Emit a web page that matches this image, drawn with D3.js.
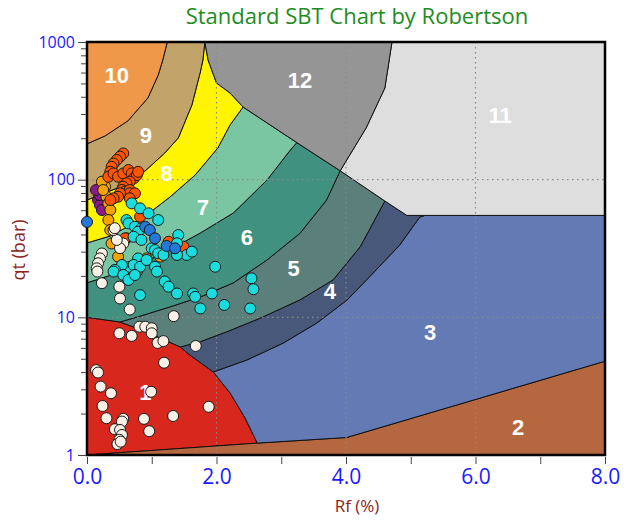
<!DOCTYPE html>
<html lang="en">
<head>
  <meta charset="UTF-8">
  <title>Standard SBT Chart</title>
  <script src="https://cdn.jsdelivr.net/npm/d3@7"></script>
  <style>
    body { margin: 0; background: #fff; }
    text { font-family: "Open Sans", sans-serif; }
  </style>
</head>
<body>
  <svg id="chart" width="624" height="521"></svg>
  <script>
    // zone boundaries, [Rf %, qt bar]
    const zone2Top = [[0, 1], [2.63, 1.22], [4.01, 1.34], [8, 4.8]]
    const zone1Edge = [[0, 10], [0.51, 9.25], [0.93, 7.82], [1.2, 6.84], [1.44, 6.09], [1.59, 5.32], [1.95, 4.01], [2.21, 2.82], [2.44, 1.86], [2.63, 1.22]]
    const edge43 = [[5.22, 55], [5.14, 53.6], [4.83, 33.5], [4.42, 21], [4.02, 13.4], [3.55, 9.1], [3.03, 6.5], [2.47, 4.9], [1.95, 4.01]]
    const edge54 = [[4.6, 70], [4.22, 32.6], [3.8, 18.7], [3.29, 13.4], [2.67, 9.84], [2.16, 7.86], [1.75, 6.65], [1.44, 6.09]]
    const edge65 = [[3.91, 116], [3.7, 71.2], [3.29, 40.8], [2.78, 26.1], [2.26, 17.8], [1.75, 14.05], [1.28, 11.9], [0.82, 10.2], [0.51, 9.25]]
    const edge76 = [[3.24, 186], [3.14, 164], [2.78, 99.4], [2.26, 57.3], [1.75, 41], [1.13, 28.4], [0.51, 21.3], [0, 17.8]]
    const edge87 = [[2.41, 337], [2.21, 250], [2.02, 170], [1.67, 108], [1.28, 74.8], [0.82, 50.9], [0.36, 39], [0, 34.7]]
    const edge98 = [[1.82, 1000], [1.79, 740], [1.75, 605], [1.62, 349], [1.41, 201], [1.2, 156], [0.9, 116], [0.51, 88.5], [0, 71.2]]
    const edge109 = [[1.24, 1000], [1.17, 740], [1.1, 576], [0.94, 392], [0.63, 267], [0.28, 208], [0, 182]]
    const edge12 = [[1.82, 1000], [1.87, 740], [2.0, 504], [2.21, 426], [2.41, 337]]
    const diagonal = [[2.41, 337], [3.24, 186], [3.91, 116], [4.6, 70], [4.94, 55]]
    const edge1211 = [[4.71, 1000], [4.6, 463], [4.31, 237], [3.91, 116]]

    const zoneNames = ['1', '2', '3', '4', '5', '6', '7', '8', '9', '10', '11', '12']
    const zoneLabelAt = [[0.9, 2.88], [6.66, 1.6], [5.3, 7.86], [3.75, 15.4], [3.19, 22.7], [2.47, 38.5], [1.79, 63.3], [1.23, 112], [0.91, 212], [0.46, 576], [6.38, 296], [3.29, 530]]

    // soundings
    const creamPts = [[0.14, 4.14], [0.17, 3.97], [0.21, 3.14], [0.37, 2.81], [0.24, 2.27], [0.30, 1.85], [0.56, 1.83], [0.54, 1.75], [0.43, 1.54], [0.51, 1.52], [0.54, 1.40], [0.50, 1.29], [0.47, 1.20], [0.52, 1.25], [0.88, 1.83], [0.96, 1.49], [0.99, 2.88], [1.19, 4.68], [1.33, 1.92], [1.88, 2.24], [1.68, 6.19], [1.09, 6.52], [1.18, 6.72], [0.23, 29.1], [0.20, 26.8], [0.17, 24.7], [0.15, 22.7], [0.16, 21.5], [0.23, 17.7], [0.50, 16.7], [0.51, 13.7], [0.66, 11.4], [1.34, 10.2], [0.81, 8.55], [0.90, 8.55], [1.00, 8.33], [1.00, 7.66], [0.50, 7.66], [0.69, 7.33], [0.56, 34.4], [0.51, 31.8], [0.46, 36.5], [0.41, 43.1], [0.43, 44.4]]
    const cyanPts = [[0.69, 67.3], [0.82, 61.9], [0.95, 57.0], [1.10, 50.9], [0.61, 50.9], [0.64, 48.2], [0.74, 45.5], [0.84, 44.3], [0.79, 41.9], [0.72, 38.5], [0.84, 36.5], [1.00, 31.7], [1.05, 30.8], [1.10, 29.2], [1.18, 28.4], [1.41, 39.6], [1.39, 34.5], [1.54, 28.4], [1.62, 30.0], [1.39, 28.4], [0.79, 26.8], [0.66, 23.3], [0.72, 24.0], [0.82, 23.3], [0.92, 26.1], [0.54, 24.0], [0.43, 22.1], [0.41, 21.5], [0.56, 20.3], [0.64, 18.7], [0.74, 20.3], [1.05, 23.3], [1.08, 21.5], [1.20, 18.2], [1.26, 16.7], [1.39, 14.9], [1.64, 14.9], [1.67, 14.1], [1.75, 11.6], [1.93, 14.9], [1.98, 23.3], [0.82, 14.5], [2.54, 19.2], [2.57, 16.0], [2.12, 12.3], [2.52, 11.6]]
    const redPts = [[0.56, 155], [0.51, 147], [0.46, 139], [0.41, 131], [0.38, 124], [0.36, 114], [0.33, 105], [0.41, 111], [0.48, 105], [0.56, 111], [0.64, 117.5], [0.69, 111], [0.72, 102], [0.77, 108], [0.79, 114], [0.66, 96.7], [0.61, 94.1], [0.56, 88.9], [0.54, 84.1], [0.59, 81.8], [0.66, 84.1], [0.66, 79.6], [0.74, 79.6], [0.66, 73.2], [0.51, 79.6], [0.48, 75.2], [0.41, 73.2], [0.36, 71.2], [0.61, 37.5], [0.82, 53.8], [1.39, 32.6], [1.49, 32.6], [1.26, 35.4], [0.59, 37.5]]
    const amberPts = [[0.28, 88.9], [0.30, 75.2], [0.33, 67.3], [0.36, 60.2], [0.33, 50.9], [0.36, 43.1], [0.38, 34.4], [0.48, 27.6], [0.92, 26.8], [0.77, 21.5], [1.13, 27.6], [0.23, 96.7], [0.25, 84.1]]
    const purplePts = [[0.17, 71.2], [0.20, 65.5], [0.23, 60.2], [0.19, 77.4], [0.14, 84.1]]
    const bluePts = [[0.90, 45.5], [0.97, 43.1], [1.05, 37.5], [1.23, 33.0], [1.36, 31.7], [0, 49.3]]

    const xTicks = [0, 1, 2, 3, 4, 5, 6, 7, 8]
    const yMajor = [1, 10, 100, 1000]

    const zoneColors = ['#d8281e', '#b5683f', '#647ab4', '#47587a', '#5b7f7a', '#40917f', '#7ac6a2', '#fff500', '#c2a46a', '#f0984a', '#dedede', '#959595']

    const svg = d3.select('#chart')
    const x = d3.scaleLinear().domain([0, 8]).range([87, 605])
    const y = d3.scaleLog().domain([1, 1000]).range([455, 42])
    const line = d3.line().x(d => x(d[0])).y(d => y(d[1]))
    const rev = a => a.slice().reverse()

    const zones = [
      [...zone1Edge, [0, 1]],
      [...zone2Top, [8, 1]],
      [...edge43, ...zone1Edge.slice(7), ...zone2Top.slice(2), [8, 55]],
      [...edge54, zone1Edge[5], ...rev(edge43), [4.94, 55]],
      [...edge65, zone1Edge[2], zone1Edge[3], ...rev(edge54)],
      [...edge76, zone1Edge[0], ...rev(edge65)],
      [...edge87, ...rev(edge76)],
      [...edge98, ...rev(edge87), ...rev(edge12)],
      [...edge109, ...rev(edge98)],
      [[0, 1000], ...edge109],
      [...edge1211, ...diagonal.slice(3), [8, 55], [8, 1000]],
      [...edge12, ...diagonal.slice(1, 3), ...rev(edge1211)]
    ]

    svg.append('g').selectAll('path')
      .data(zones)
      .enter().append('path')
      .attr('d', d => line(d) + 'Z')
      .attr('fill', (d, i) => zoneColors[i])
      .attr('stroke', '#111')
      .attr('stroke-width', 1)
      .attr('stroke-linejoin', 'round')

    // dotted grid
    const grid = svg.append('g')
      .attr('stroke', '#8a8a8a')
      .attr('stroke-width', 1.2)
      .attr('stroke-dasharray', '1.5,3.5')
    grid.selectAll('.gx').data([2, 4, 6]).enter().append('line')
      .attr('x1', d => x(d)).attr('x2', d => x(d))
      .attr('y1', 42).attr('y2', 455)
    grid.selectAll('.gy').data([10, 100]).enter().append('line')
      .attr('x1', 87).attr('x2', 605)
      .attr('y1', d => y(d)).attr('y2', d => y(d))

    // zone labels
    svg.append('g').selectAll('text')
      .data(zoneNames)
      .enter().append('text')
      .attr('x', (d, i) => x(zoneLabelAt[i][0]))
      .attr('y', (d, i) => y(zoneLabelAt[i][1]))
      .attr('dy', '0.36em')
      .attr('text-anchor', 'middle')
      .style('font-family', '"Liberation Sans", Arial, sans-serif')
      .style('font-weight', 'bold')
      .style('font-size', '22px')
      .attr('fill', '#fff')
      .text(d => d)

    // frame
    svg.append('rect')
      .attr('x', 87).attr('y', 42)
      .attr('width', 518).attr('height', 413)
      .attr('fill', 'none')
      .attr('stroke', '#000')
      .attr('stroke-width', 2.5)

    // axes
    const xAxis = svg.append('g')
      .attr('transform', 'translate(0,457)')
      .call(d3.axisBottom(x).tickValues(xTicks).tickSize(7).tickPadding(5)
        .tickFormat(d => d % 2 === 0 ? d.toFixed(1) : ''))
    xAxis.select('.domain').remove()
    xAxis.selectAll('line').attr('stroke', '#444')
    xAxis.selectAll('text').attr('fill', '#1a1aff').style('font-size', '21px')

    const yMinor = []
    yMajor.slice(0, 3).forEach(m => { for (let k = 2; k < 10; k++) yMinor.push(m * k) })
    const yAxisMinor = svg.append('g')
      .attr('transform', 'translate(86,0)')
      .call(d3.axisLeft(y).tickValues(yMinor).tickSize(5).tickFormat(''))
    yAxisMinor.select('.domain').remove()
    yAxisMinor.selectAll('line').attr('stroke', '#444')

    const yAxis = svg.append('g')
      .attr('transform', 'translate(86,0)')
      .call(d3.axisLeft(y).tickValues(yMajor).tickSize(8).tickPadding(3)
        .tickFormat(d3.format('d')))
    yAxis.select('.domain').remove()
    yAxis.selectAll('line').attr('stroke', '#444')
    yAxis.selectAll('text').attr('fill', '#1a1aff').style('font-size', '16px')

    // soundings
    const series = [
      { pts: purplePts, color: '#8b1a8b' },
      { pts: amberPts, color: '#f5a300' },
      { pts: redPts, color: '#ff5500' },
      { pts: creamPts, color: '#faf0e6' },
      { pts: cyanPts, color: '#1adcdc' },
      { pts: bluePts, color: '#2379d9' }
    ]
    series.forEach(s => {
      svg.append('g').selectAll('circle')
        .data(s.pts)
        .enter().append('circle')
        .attr('cx', d => x(d[0]))
        .attr('cy', d => y(d[1]))
        .attr('r', 5.5)
        .attr('fill', s.color)
        .attr('stroke', '#1a1a1a')
        .attr('stroke-width', 1)
    })

    // titles
    svg.append('text')
      .attr('x', 357).attr('y', 24)
      .attr('text-anchor', 'middle')
      .attr('fill', '#1e8c1e')
      .style('font-size', '22px')
      .text('Standard SBT Chart by Robertson')

    svg.append('text')
      .attr('x', 357).attr('y', 512)
      .attr('text-anchor', 'middle')
      .attr('fill', '#8b2323')
      .style('font-size', '17px')
      .text('Rf (%)')

    svg.append('text')
      .attr('transform', 'translate(25,250) rotate(-90)')
      .attr('text-anchor', 'middle')
      .attr('fill', '#8b2323')
      .style('font-size', '18px')
      .text('qt (bar)')
  </script>
</body>
</html>
